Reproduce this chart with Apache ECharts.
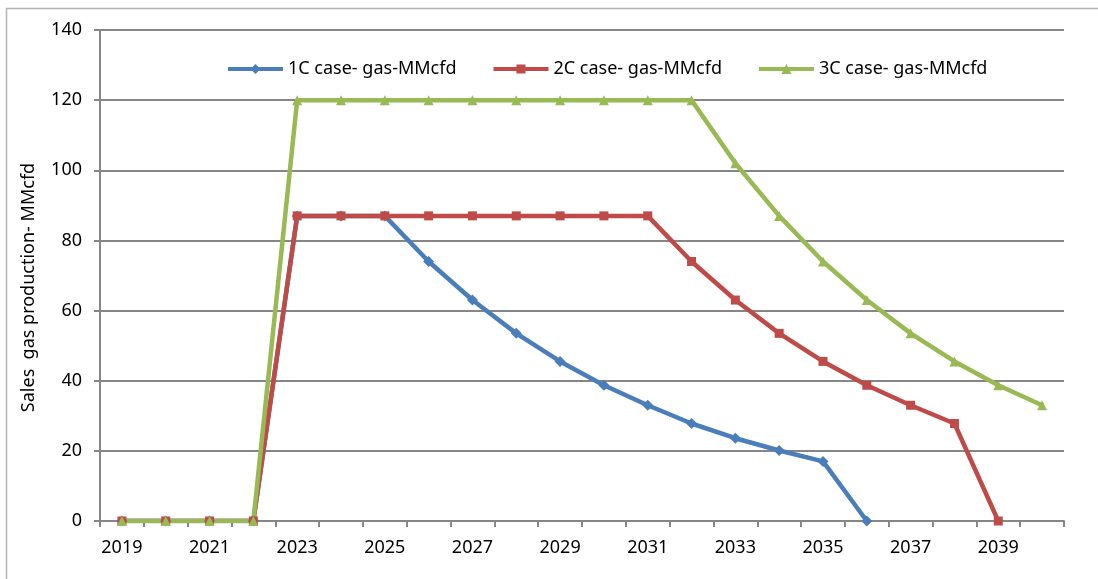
<!DOCTYPE html>
<html><head><meta charset="utf-8">
<script src="https://cdn.jsdelivr.net/npm/echarts@6/dist/echarts.min.js"></script>
<style>html,body{margin:0;padding:0;background:#fff}#c{width:1098px;height:579px}</style>
</head><body><div id="c"></div>
<script>
const years = ['2019','2020','2021','2022','2023','2024','2025','2026','2027','2028','2029','2030','2031','2032','2033','2034','2035','2036','2037','2038','2039','2040'];
const seriesNames = ['1C case- gas-MMcfd','2C case- gas-MMcfd','3C case- gas-MMcfd'];
const case1C = [0,0,0,0,87,87,87,74,63,53.5,45.5,38.7,33,27.8,23.6,20.1,17,0,null,null,null,null];
const case2C = [0,0,0,0,87,87,87,87,87,87,87,87,87,74,63,53.5,45.5,38.7,33,27.8,0,null];
const case3C = [0,0,0,0,120,120,120,120,120,120,120,120,120,120,102,87,74,63,53.5,45.5,38.7,33];
const yTicks = [0,20,40,60,80,100,120,140];

const font = "'Noto Sans', 'Liberation Sans', sans-serif";
const icons = [
  'path://M0,3H55V7H0Z M27.5,0L32.5,5L27.5,10L22.5,5Z',
  'path://M0,3H55V7H0Z M23,0.5H32V9.5H23Z M0,0H0.01V10H0Z',
  'path://M0,3H55V7H0Z M27.5,0L32.5,10H22.5Z'
];
const chart = echarts.init(document.getElementById('c'), null, {renderer:'canvas'});
const mk = (name, data, color, symbol, size) => ({
  name, type:'line', data, symbol, symbolSize:size, showSymbol:true,
  lineStyle:{width:4.5, color}, itemStyle:{color}, connectNulls:false, animation:false
});
chart.setOption({
  animation:false,
  backgroundColor:'#fff',
  graphic:[{type:'rect', shape:{x:6.5, y:8.5, width:1200, height:700}, style:{fill:'none', stroke:'#b4b4b4', lineWidth:1.5}, silent:true}],
  grid:{left:100, right:34, top:30, bottom:58, containLabel:false},
  legend:{
    top:60, left:228, padding:0, itemGap:37, itemWidth:55, itemHeight:10,
    textStyle:{fontFamily:font, fontSize:18, color:'#000'},
    data:seriesNames.map((n,i)=>({name:n, icon:icons[i]}))
  },
  xAxis:{
    type:'category', data:years, boundaryGap:true,
    axisLine:{lineStyle:{color:'#868686', width:2}},
    axisTick:{show:true, length:6, lineStyle:{color:'#868686', width:2}, interval:0},
    axisLabel:{interval:1, fontFamily:font, fontSize:18, color:'#000', margin:18}
  },
  yAxis:{
    type:'value', min:0, max:140, interval:20,
    name:'Sales  gas production- MMcfd', nameLocation:'middle', nameGap:62,
    nameTextStyle:{fontFamily:font, fontSize:18, color:'#000', padding:[0,0,0,-24]},
    axisLine:{show:true, lineStyle:{color:'#868686', width:2}},
    axisTick:{show:true, length:6, lineStyle:{color:'#868686', width:2}},
    splitLine:{lineStyle:{color:'#868686', width:2}},
    axisLabel:{fontFamily:font, fontSize:18, color:'#000', margin:18,
      formatter:v=>yTicks.includes(v)?String(v):''}
  },
  series:[
    mk(seriesNames[0], case1C, '#4A7EBB', 'diamond', 11),
    mk(seriesNames[1], case2C, '#BE4B48', 'rect', 9),
    mk(seriesNames[2], case3C, '#98B954', 'triangle', 10)
  ]
});
</script></body></html>
